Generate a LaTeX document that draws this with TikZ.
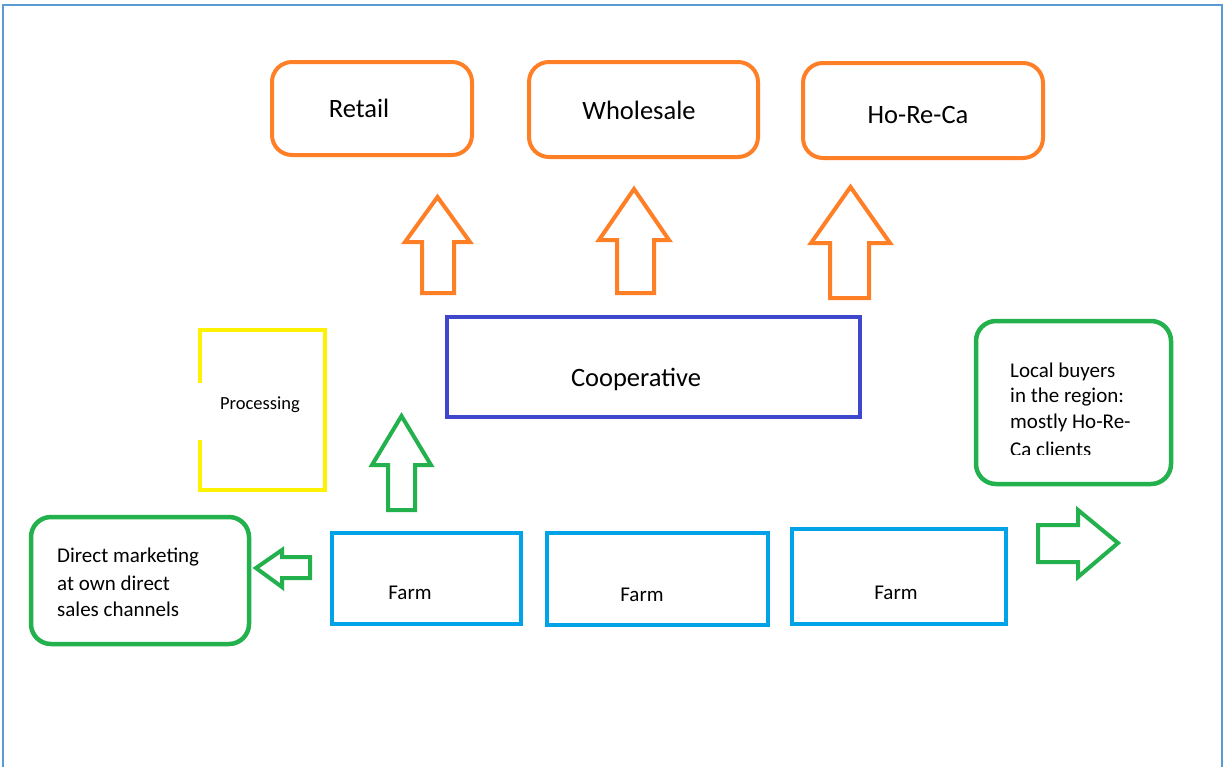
\documentclass[tikz,border=0pt]{standalone}
\usepackage{fontspec}
\setmainfont{Carlito}
\definecolor{frameblue}{HTML}{5B9BD5}
\definecolor{orng}{HTML}{FF7F27}
\definecolor{grn}{HTML}{22B14C}
\definecolor{coopblue}{HTML}{3F48CC}
\definecolor{ylw}{HTML}{FFF200}
\definecolor{farmblue}{HTML}{00A2E8}
\begin{document}
\begin{tikzpicture}[x=1pt,y=-1pt,
  obox/.style={draw=orng,line width=4pt,rounded corners=20pt,inner sep=0pt},
  gbox/.style={draw=grn,line width=4.5pt,rounded corners=20pt,inner sep=0pt},
  farmbox/.style={draw=farmblue,line width=4pt,inner sep=0pt},
  oarrow/.style={draw=orng,line width=4pt,line join=miter},
  garrow/.style={draw=grn,line width=4pt,line join=miter},
  txt/.style={inner sep=0pt,font=\fontsize{21}{25}\selectfont},
  ltxt/.style={txt,anchor=west},
  bigtxt/.style={inner sep=0pt,font=\fontsize{26.5}{31}\selectfont}]
\useasboundingbox (0,0) rectangle (1225,766);
\fill[white] (0,0) rectangle (1225,766);
% frame
\draw[frameblue,line width=2pt] (3,768) -- (3,5) -- (1222,5) -- (1222,768);
% top boxes
\node[obox,minimum width=200pt,minimum height=93pt] (retail) at (372,108.5) {};
\node[bigtxt] (retailt) at (359,108) {Retail};
\node[obox,minimum width=229pt,minimum height=95pt] (whole) at (643.5,109.5) {};
\node[bigtxt] (wholet) at (639,110) {Wholesale};
\node[obox,minimum width=240pt,minimum height=95pt] (horeca) at (923,110.5) {};
\node[bigtxt] (horecat) at (918,115) {Ho-Re-Ca};
% orange arrows
\draw[oarrow] (422,293) -- (422,242) -- (405,242) -- (437.5,197) -- (470,242) -- (454,242) -- (454,293) -- cycle;
\draw[oarrow] (617,293) -- (617,240) -- (599,240) -- (634,189) -- (669,240) -- (654,240) -- (654,293) -- cycle;
\draw[oarrow] (830,298) -- (830,243) -- (811,243) -- (850.5,187) -- (890,243) -- (869,243) -- (869,298) -- cycle;
% cooperative
\node[draw=coopblue,line width=4pt,minimum width=413pt,minimum height=100pt,inner sep=0pt] (coop) at (653.5,367) {};
\node[bigtxt] (coopt) at (636,379) {Cooperative};
% processing
\node[draw=ylw,line width=4.5pt,minimum width=125pt,minimum height=160pt,inner sep=0pt] (proc) at (262.5,410) {};
\fill[white] (196,383) rectangle (321,440);
\node[inner sep=0pt,font=\fontsize{18.5}{22}\selectfont] (proct) at (260,405) {Processing};
% green up arrow
\draw[garrow] (388,510) -- (388,465) -- (372,465) -- (401.5,416) -- (431,465) -- (415,465) -- (415,510) -- cycle;
% local buyers
\node[gbox,minimum width=195pt,minimum height=163pt] (local) at (1073.5,402.5) {};
\node[ltxt] (local1) at (1010,372) {Local buyers};
\node[ltxt] (local2) at (1010,397) {in the region:};
\node[ltxt] (local3) at (1010,423) {mostly Ho-Re-};
\begin{scope}
\clip (990,430) rectangle (1160,454);
\node[ltxt] (local4) at (1010,449) {Ca clients};
\end{scope}
% direct marketing
\node[gbox,minimum width=218pt,minimum height=127pt] (direct) at (140,580.5) {};
\node[ltxt] (direct1) at (57,557) {Direct marketing};
\node[ltxt] (direct2) at (57,583) {at own direct};
\node[ltxt] (direct3) at (57,609) {sales channels};
% green left arrow
\draw[garrow] (310,557) -- (282,557) -- (282,550) -- (256,568) -- (282,587) -- (282,578) -- (310,578) -- cycle;
% green right arrow
\draw[garrow] (1038,525) -- (1078,525) -- (1078,510) -- (1118,543) -- (1078,577) -- (1078,562) -- (1038,562) -- cycle;
% farms
\node[farmbox,minimum width=189pt,minimum height=91pt] (farm1) at (426.5,578.5) {};
\node[txt] (farm1t) at (410,593) {Farm};
\node[farmbox,minimum width=221pt,minimum height=92pt] (farm2) at (657.5,579) {};
\node[txt] (farm2t) at (642,595) {Farm};
\node[farmbox,minimum width=214pt,minimum height=95pt] (farm3) at (899,576.5) {};
\node[txt] (farm3t) at (896,593) {Farm};
\end{tikzpicture}
\end{document}
